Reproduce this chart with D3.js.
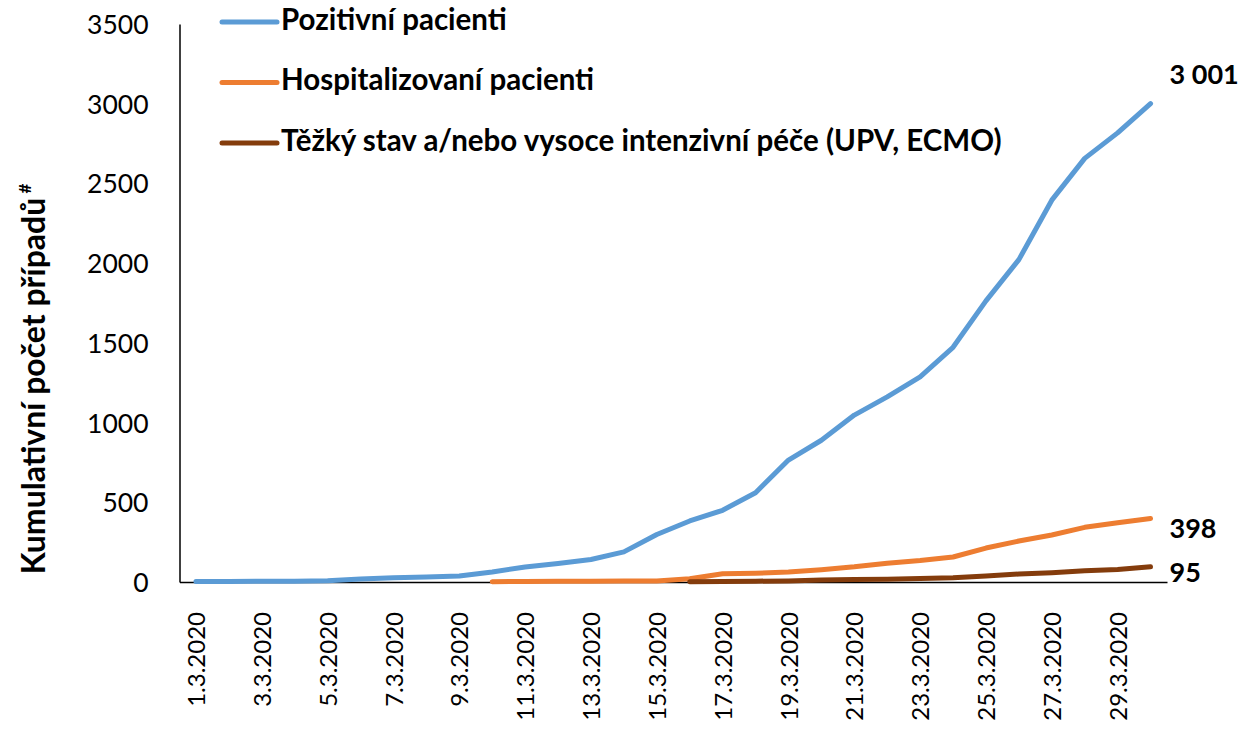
<!DOCTYPE html>
<html lang="cs">
<head>
<meta charset="utf-8">
<title>Kumulativní počet případů</title>
<script src="https://cdn.jsdelivr.net/npm/d3@7/dist/d3.min.js"></script>
<style>
body { margin:0; background:#fff; font-family: Lato, "Open Sans", sans-serif; }
svg text { font-family: Lato, "Open Sans", sans-serif; fill:#000; }
</style>
</head>
<body>
<svg id="chart" width="1243" height="732"></svg>
<script>
var dates = ["1.3.2020","2.3.2020","3.3.2020","4.3.2020","5.3.2020","6.3.2020","7.3.2020","8.3.2020","9.3.2020","10.3.2020",
  "11.3.2020","12.3.2020","13.3.2020","14.3.2020","15.3.2020","16.3.2020","17.3.2020","18.3.2020","19.3.2020","20.3.2020",
  "21.3.2020","22.3.2020","23.3.2020","24.3.2020","25.3.2020","26.3.2020","27.3.2020","28.3.2020","29.3.2020","30.3.2020"];

// null = no value reported yet
var pozitivni = [3,3,5,5,8,19,26,32,38,63,94,116,141,189,298,383,450,560,765,889,1047,1161,1287,1472,1763,2022,2395,2657,2817,3001];
var hospitalizovani = [null,null,null,null,null,null,null,null,null,2,3,4,5,6,7,20,52,55,62,77,95,118,135,157,213,257,295,343,372,398];
var tezky = [null,null,null,null,null,null,null,null,null,null,null,null,null,null,null,2,3,5,7,13,15,18,22,27,38,50,58,70,78,95];

var seriesNames = ["Pozitivní pacienti","Hospitalizovaní pacienti","Těžký stav a/nebo vysoce intenzivní péče (UPV, ECMO)"];
var endLabels = ["3 001","398","95"];
var colors = ["#5b9bd5","#ed7d31","#843c0c"];
var yTicks = [0,500,1000,1500,2000,2500,3000,3500];

var svg = d3.select("#chart");
var mLeft = 179.5, mRight = 1167, mTop = 24, mBottom = 582;

var x = d3.scalePoint().domain(dates).range([mLeft, mRight]).padding(0.5);
var y = d3.scaleLinear().domain([0,3500]).range([mBottom, mTop]);

// y axis
var yAxis = svg.append("g")
  .attr("transform","translate(" + mLeft + ",0)")
  .call(d3.axisLeft(y).tickValues(yTicks).tickFormat(d3.format("d")).tickSize(0).tickPadding(31));
yAxis.select(".domain").attr("stroke","#000").attr("stroke-width",1.5);
yAxis.selectAll("text").style("font-size","26.5px").attr("dy","0.36em");

// x axis
var xAxis = svg.append("g")
  .attr("transform","translate(0," + mBottom + ")")
  .call(d3.axisBottom(x).tickSize(0).tickFormat(function(d,i){ return i % 2 == 0 ? d : ""; }));
xAxis.select(".domain").attr("stroke","#000").attr("stroke-width",1.5);
xAxis.selectAll("text")
  .style("font-size","24px")
  .attr("text-anchor","end")
  .attr("transform","rotate(-90)")
  .attr("x",-30)
  .attr("y",0)
  .attr("dy","0.36em");

// y title
svg.append("text")
  .attr("transform","translate(45,379) rotate(-90)")
  .attr("text-anchor","middle")
  .style("font-size","32px")
  .style("font-weight","bold")
  .text("Kumulativní počet případů")
  .append("tspan")
  .attr("dy","-14")
  .style("font-size","17px")
  .text(" #");

// lines
var allSeries = [pozitivni, hospitalizovani, tezky];
var line = d3.line()
  .defined(function(d){ return d != null; })
  .x(function(d,i){ return x(dates[i]); })
  .y(function(d){ return y(d); });

allSeries.forEach(function(s, k){
  svg.append("path")
    .datum(s)
    .attr("fill","none")
    .attr("stroke",colors[k])
    .attr("stroke-width",5)
    .attr("stroke-linecap","round")
    .attr("stroke-linejoin","round")
    .attr("d",line);
});

// end labels (baseline offsets from the last point)
var endOffset = [-20, 19.5, 15];
endLabels.forEach(function(t,k){
  var s = allSeries[k];
  svg.append("text")
    .attr("x", x(dates[dates.length-1]) + 19)
    .attr("y", y(s[s.length-1]) + endOffset[k])
    .style("font-size","27px")
    .style("font-weight","bold")
    .text(t);
});

// legend
seriesNames.forEach(function(n,k){
  var ly = 22 + k*60.5;
  svg.append("line")
    .attr("x1",222).attr("x2",277)
    .attr("y1",ly).attr("y2",ly)
    .attr("stroke",colors[k])
    .attr("stroke-width",5)
    .attr("stroke-linecap","round");
  svg.append("text")
    .attr("x",281)
    .attr("y",ly + 7.5)
    .style("font-size","29.5px")
    .style("font-weight","bold")
    .text(n);
});
</script>
</body>
</html>
